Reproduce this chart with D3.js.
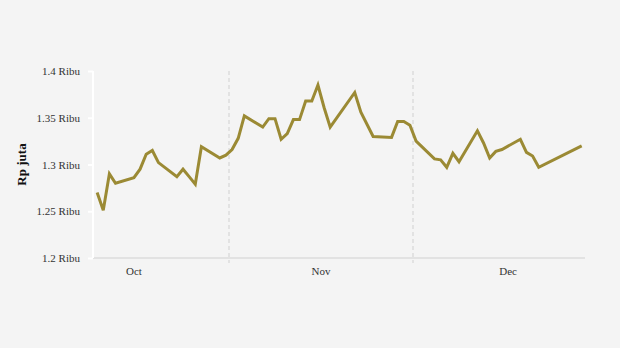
<!DOCTYPE html>
<html>
<head>
<meta charset="utf-8">
<script src="https://cdn.jsdelivr.net/npm/d3@7"></script>
<style>
  body { margin: 0; background: #f4f4f4; }
  svg { display: block; font-family: "Liberation Serif", "Times New Roman", serif; }
</style>
</head>
<body>
<svg id="chart" width="620" height="348"></svg>
<script>
// daily price (Rp juta), 2023
var dates = [
  "10-10","10-11","10-12","10-13","10-16","10-17","10-18","10-19","10-20",
  "10-23","10-24","10-25","10-26","10-27","10-30","10-31",
  "11-01","11-02","11-03","11-06","11-07","11-08","11-09","11-10","11-11","11-12",
  "11-13","11-14","11-15","11-16","11-17","11-21","11-22","11-24",
  "11-27","11-28","11-29","11-30","12-01","12-04","12-05","12-06","12-07","12-08",
  "12-11","12-12","12-13","12-14","12-15","12-18","12-19","12-20","12-21","12-28"
];
var prices = [
  1.270,1.251,1.290,1.280,1.286,1.295,1.311,1.315,1.302,
  1.287,1.295,1.287,1.279,1.319,1.307,1.310,
  1.316,1.328,1.352,1.340,1.349,1.349,1.327,1.333,1.348,1.348,
  1.368,1.368,1.385,1.361,1.340,1.377,1.356,1.330,
  1.329,1.346,1.346,1.342,1.325,1.306,1.305,1.297,1.312,1.303,
  1.336,1.323,1.307,1.314,1.316,1.327,1.313,1.309,1.297,1.320
];
var yTicks = [1.2, 1.25, 1.3, 1.35, 1.4];
var months = ["Oct", "Nov", "Dec"];
var monthStarts = ["2023-10-01", "2023-11-01", "2023-12-01", "2024-01-01"];

var parse = d3.timeParse("%Y-%m-%d %H");
var data = dates.map(function(d, i) {
  return { date: parse("2023-" + d + " 12"), value: prices[i] };
});

var svg = d3.select("#chart");
var plotLeft = 93, plotRight = 585, plotTop = 71, plotBottom = 258;

var x = d3.scaleTime()
  .domain([new Date(2023, 9, 9, 19, 50), new Date(2023, 11, 29, 1)])
  .range([plotLeft, plotRight]);
var y = d3.scaleLinear().domain([1.2, 1.4]).range([plotBottom, plotTop]);

// month separators
var starts = monthStarts.map(function(s) { return d3.timeParse("%Y-%m-%d")(s); });
svg.append("g").selectAll("line")
  .data(starts.slice(1, 3))
  .enter().append("line")
  .attr("x1", function(d) { return x(d); })
  .attr("x2", function(d) { return x(d); })
  .attr("y1", plotTop).attr("y2", plotBottom + 5)
  .attr("stroke", "#dcdcdc")
  .attr("stroke-width", 1.5)
  .attr("stroke-dasharray", "4,3");

// x baseline
svg.append("line")
  .attr("x1", plotLeft).attr("x2", plotRight)
  .attr("y1", plotBottom).attr("y2", plotBottom)
  .attr("stroke", "#e2e2e2").attr("stroke-width", 2);

// y axis
var yAxis = svg.append("g")
  .attr("transform", "translate(" + plotLeft + ",0)")
  .call(d3.axisLeft(y).tickValues(yTicks).tickSize(5).tickPadding(8)
    .tickFormat(function(d) { return d + " Ribu"; }));
yAxis.selectAll("path, line").attr("stroke", "#ffffff").attr("stroke-width", 2);
yAxis.select(".domain").attr("d", "M0," + plotTop + "V" + plotBottom);
yAxis.selectAll("text")
  .attr("fill", "#333").style("font-size", "11px")
  .style("font-family", "Liberation Serif, serif");

// month labels at mid-month
svg.append("g").selectAll("text")
  .data(months)
  .enter().append("text")
  .attr("x", function(d, i) { return (x(starts[i]) + x(starts[i + 1])) / 2; })
  .attr("y", 275)
  .attr("text-anchor", "middle")
  .attr("fill", "#333")
  .style("font-size", "11px")
  .text(function(d) { return d; });

// y title
svg.append("text")
  .attr("transform", "translate(26," + ((plotTop + plotBottom) / 2) + ") rotate(-90)")
  .attr("text-anchor", "middle")
  .attr("fill", "#111")
  .style("font-size", "13px")
  .style("font-weight", "bold")
  .text("Rp juta");

// price line
var line = d3.line()
  .x(function(d) { return x(d.date); })
  .y(function(d) { return y(d.value); });

svg.append("path")
  .datum(data)
  .attr("d", line)
  .attr("fill", "none")
  .attr("stroke", "#9b8a34")
  .attr("stroke-width", 3)
  .attr("stroke-linejoin", "miter");
</script>
</body>
</html>
